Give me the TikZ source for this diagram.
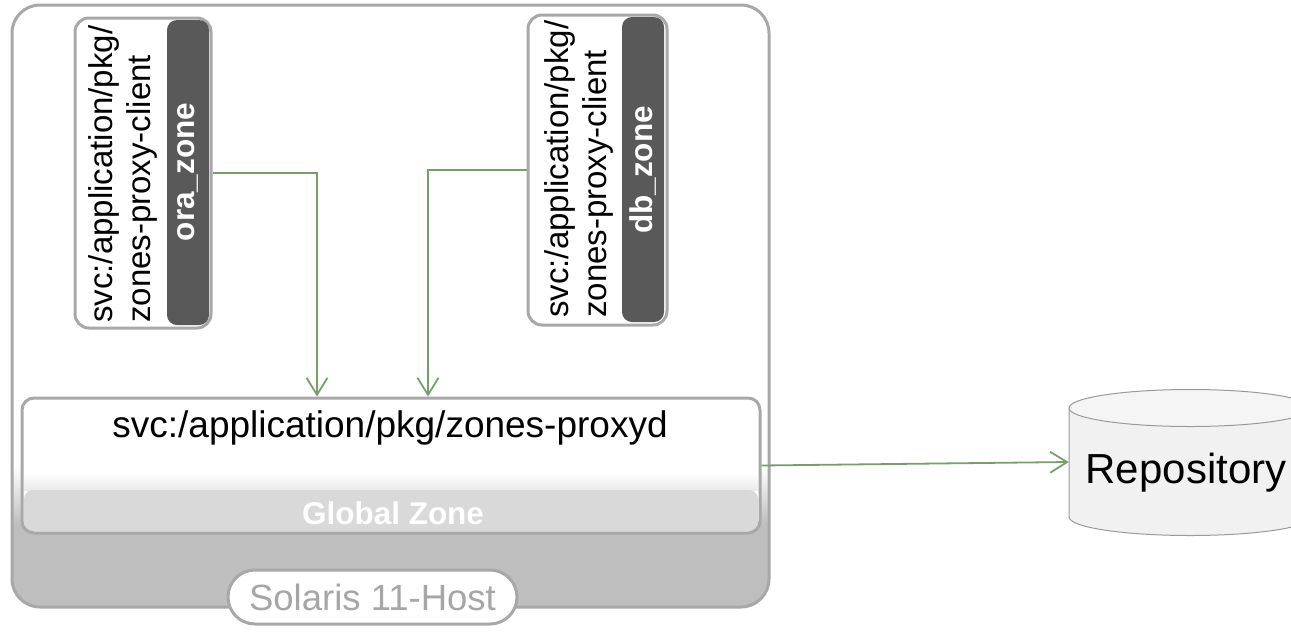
\documentclass[tikz,border=0pt]{standalone}
\usepackage{fontspec}
\setmainfont{Liberation Sans}
\usetikzlibrary{arrows.meta}
\definecolor{grn}{HTML}{789E6E}
\definecolor{bord}{HTML}{A8A8A8}
\definecolor{dark}{HTML}{595959}
\definecolor{hostgray}{HTML}{BEBEBE}
\definecolor{gzband}{HTML}{D9D9D9}
\definecolor{cylfill}{HTML}{F1F1F1}
\definecolor{cyltop}{HTML}{F5F5F5}
\definecolor{cylline}{HTML}{9A9A9A}
\definecolor{softtext}{HTML}{A6A6A6}
\begin{document}
\begin{tikzpicture}[x=1pt,y=-1pt,
  frame/.style={draw=bord, line width=3pt, inner sep=0pt},
  clientbox/.style={frame, rounded corners=14pt, minimum width=136pt, minimum height=310pt},
  zonebar/.style={fill=dark, rounded corners=10pt, inner sep=0pt, minimum width=42pt, minimum height=305pt},
  vtext/.style={rotate=90, anchor=base west, inner sep=0pt, font=\fontsize{33}{38}\selectfont},
  zlabel/.style={rotate=90, inner sep=0pt, text=white, font=\bfseries\fontsize{31.5}{36}\selectfont},
  arr/.style={draw=grn, line width=1.8pt, -{Straight Barb[length=17pt, width=21pt, line width=1.8pt]}},
  bigtext/.style={inner sep=0pt, anchor=base, font=\fontsize{37}{44}\selectfont},
]
\useasboundingbox (0,0) rectangle (1291,633);

% ---------- Host background ----------
\fill[white, rounded corners=28pt] (12,5) rectangle (769,607);
\begin{scope}
  \clip[rounded corners=28pt] (12,5) rectangle (769,607);
  \fill[hostgray] (0,524) rectangle (800,620);
  \shade[top color=white, bottom color=hostgray] (0,466) rectangle (800,524.5);
\end{scope}
\node[frame, rounded corners=28pt, minimum width=757pt, minimum height=602pt] (host) at (390.5,306) {};

% ---------- Global zone ----------
\fill[white, rounded corners=12pt] (22,398) rectangle (760,533);
\shade[top color=white, bottom color=white!92!black] (24,472) rectangle (758,490);
\fill[gzband, rounded corners=9pt] (24,490) rectangle (758,531.5);
\node[frame, rounded corners=12pt, minimum width=738pt, minimum height=135pt] (gz) at (391,465.5) {};
\node[bigtext] (gztext) at (390,437) {svc:/application/pkg/zones-proxyd};
\node[inner sep=0pt, anchor=base, text=white, font=\bfseries\fontsize{31.5}{36}\selectfont] (gzlabel) at (393,524) {Global Zone};

% ---------- Solaris host label ----------
\node[frame, fill=white, rounded corners=27pt, minimum width=289pt, minimum height=54pt,
      text=softtext, font=\fontsize{36.5}{42}\selectfont] (solaris) at (372.5,597) {Solaris 11-Host};

% ---------- ora_zone client ----------
\node[clientbox, fill=white] (oraC) at (143,173) {};
\node[zonebar] (oraBar) at (188,172.5) {};
\node[vtext] (oraL1) at (112,323) {svc:/application/pkg/};
\node[vtext] (oraL2) at (150,323) {zones-proxy-client};
\node[zlabel] (oraZ) at (188,172) {ora\_zone};

% ---------- db_zone client ----------
\node[clientbox, fill=white, minimum width=139pt] (dbC) at (597.5,170) {};
\node[zonebar] (dbBar) at (643,169.5) {};
\node[vtext] (dbL1) at (568,318) {svc:/application/pkg/};
\node[vtext] (dbL2) at (606,318) {zones-proxy-client};
\node[zlabel] (dbZ) at (643,170) {db\_zone};

% ---------- Repository ----------
\node[inner sep=0pt, minimum width=242pt, minimum height=146pt] (repo) at (1190,462) {};
\fill[cylfill] (1069,408) -- (1069,517) arc[start angle=180, end angle=0, x radius=121, y radius=18.5] -- (1311,408) -- cycle;
\draw[cylline, line width=1pt] (1069,408) -- (1069,517) arc[start angle=180, end angle=0, x radius=121, y radius=18.5] -- (1311,408);
\draw[cylline, line width=1pt, fill=cyltop] (1190,408) ellipse[x radius=121, y radius=18.5];
\node[inner sep=0pt, anchor=base, font=\fontsize{42}{50}\selectfont] (repolabel) at (1186,483) {Repository};

% ---------- Connectors ----------
\draw[arr] (oraC.east) -| ([xshift=-74pt]gz.north);
\draw[arr] (dbC.west) -| ([xshift=37pt]gz.north);
\draw[arr] (gz.east) -- (repo.west);
\end{tikzpicture}
\end{document}
